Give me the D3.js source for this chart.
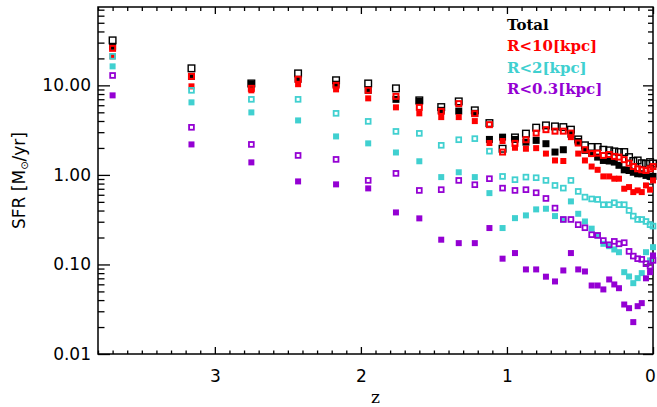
<!DOCTYPE html>
<html>
<head>
<meta charset="utf-8">
<script src="https://cdn.jsdelivr.net/npm/d3@7"></script>
<style>
  html, body { margin: 0; padding: 0; background: #fff; }
  svg { display: block; }
  .tick text { font-family: "DejaVu Sans", sans-serif; font-size: 17px; fill: #000; }
  .tick line { stroke: #000; stroke-width: 1.3; }
</style>
</head>
<body>
<svg id="chart" width="657" height="407"></svg>
<script>
// ─── Data ─────────────────────────────────────────────────────────────────────

const redshift = [3.70, 3.16, 2.75, 2.43, 2.17, 1.95, 1.76, 1.60, 1.45, 1.33, 1.22, 1.12,
  1.03, 0.945, 0.87, 0.80, 0.733, 0.671, 0.614, 0.562, 0.512, 0.466, 0.42, 0.379,
  0.34, 0.30, 0.265, 0.233, 0.197, 0.164, 0.135, 0.105, 0.077, 0.048, 0.02, 0.0];

// open squares
const totalOpen = [31.8, 15.5, 10.5, 13.6, 11.4, 10.5, 9.26, 6.80, 5.72, 6.62, 5.26, 3.79,
  1.96, 2.62, 2.89, 3.37, 3.57, 3.48, 3.42, 3.20, 2.49, 2.14, 2.05, 2.05,
  1.91, 1.88, 1.83, 1.80, 1.80, 1.58, 1.43, 1.45, 1.35, 1.33, 1.39, 1.34];
const r10Open = [25.9, 12.6, 9.26, 11.7, 10.0, 8.8, 7.54, 5.68, 5.12, 6.25, 4.83, 3.64,
  1.80, 2.25, 2.47, 2.93, 3.20, 3.08, 3.08, 2.93, 2.27, 1.91, 1.73, 1.75,
  1.65, 1.69, 1.61, 1.58, 1.48, 1.35, 1.24, 1.17, 1.14, 1.12, 1.17, 1.24];
const r2Open = [21.1, 8.8, 6.98, 6.98, 4.87, 3.96, 3.06, 2.91, 2.14, 2.47, 2.54, 1.84,
  0.962, 0.884, 0.945, 0.93, 0.868, 0.763, 0.712, 0.868, 0.654, 0.565, 0.539, 0.532,
  0.465, 0.465, 0.489, 0.465, 0.465, 0.401, 0.347, 0.318, 0.318, 0.302, 0.278, 0.268];
const r03Open = [12.9, 3.40, 2.19, 1.65, 1.49, 0.868, 1.04, 0.671, 0.684, 0.868, 0.777, 0.907,
  0.712, 0.671, 0.684, 0.632, 0.546, 0.426, 0.318, 0.318, 0.278, 0.257, 0.215, 0.211,
  0.185, 0.166, 0.181, 0.170, 0.175, 0.140, 0.124, 0.116, 0.114, 0.102, 0.0957, 0.111];

// filled squares
const totalFilled = [27.3, 12.6, 10.3, 11.7, 10.3, 8.8, 6.98, 6.62, 5.26, 5.16, 4.87, 2.49,
  2.64, 2.49, 2.32, 2.43, 2.23, 1.80, 1.91, 2.84, 2.36, 1.88, 1.74, 1.58,
  1.45, 1.43, 1.39, 1.28, 1.14, 1.12, 1.07, 1.03, 1.03, 0.987, 0.962, 0.962];
const r10Filled = [21.1, 9.75, 8.8, 10.3, 9.02, 7.16, 5.68, 4.87, 4.42, 4.42, 3.99, 2.27,
  2.39, 2.01, 1.96, 1.99, 1.73, 1.45, 1.43, 2.64, 1.73, 1.45, 1.24, 1.14,
  0.962, 0.962, 0.907, 0.907, 0.701, 0.731, 0.643, 0.671, 0.643, 0.763, 0.684, 0.868];
const r2Filled = [16.3, 6.46, 4.99, 4.06, 2.69, 2.25, 1.78, 1.42, 0.945, 1.07, 0.945, 0.626,
  0.255, 0.329, 0.353, 0.412, 0.419, 0.347, 0.318, 0.506, 0.368, 0.302, 0.251, 0.211,
  0.170, 0.160, 0.147, 0.137, 0.082, 0.0734, 0.0618, 0.0703, 0.080, 0.137, 0.111, 0.156];
const r03Filled = [7.73, 2.19, 1.38, 0.846, 0.784, 0.707, 0.381, 0.327, 0.189, 0.173, 0.173, 0.255,
  0.116, 0.134, 0.088, 0.088, 0.073, 0.0646, 0.0857, 0.134, 0.088, 0.0835, 0.0582, 0.0582,
  0.0526, 0.068, 0.0598, 0.0543, 0.0357, 0.0325, 0.0227, 0.0342, 0.037, 0.070, 0.082, 0.126];

const legendLabels = ["Total", "R<10[kpc]", "R<2[kpc]", "R<0.3[kpc]"];
const seriesColors = ["#000000", "#ff0000", "#40d0d0", "#9400d3"];
const yTickValues = [0.01, 0.1, 1, 10];
const xTickValues = [0, 1, 2, 3];

// draw order: each group open then filled, black → red → cyan → purple
const series = [
  { values: totalOpen, color: seriesColors[0], open: true, size: 6.6, sw: 1.4 },
  { values: totalFilled, color: seriesColors[0], open: false, size: 7 },
  { values: r10Open, color: seriesColors[1], open: true, size: 5, sw: 2 },
  { values: r10Filled, color: seriesColors[1], open: false, size: 6 },
  { values: r2Open, color: seriesColors[2], open: true, size: 4.8, sw: 1.8 },
  { values: r2Filled, color: seriesColors[2], open: false, size: 6 },
  { values: r03Open, color: seriesColors[3], open: true, size: 4.8, sw: 1.8 },
  { values: r03Filled, color: seriesColors[3], open: false, size: 6 },
];

// ─── Chart ────────────────────────────────────────────────────────────────────

const margin = { top: 7, right: 4, bottom: 53, left: 98 };
const W = 657, H = 407;
const width = W - margin.left - margin.right;
const height = H - margin.top - margin.bottom;

const svg = d3.select("#chart");
const g = svg.append("g").attr("transform", `translate(${margin.left},${margin.top})`);

const x = d3.scaleLinear().domain([3.8, 0]).range([0, width]);
const y = d3.scaleLog().domain([0.01, 75]).range([height, 0]);

const xMinor = x.ticks(38).filter(d => Math.abs(d - Math.round(d)) > 1e-6);
const yMinor = y.ticks().filter(d => !yTickValues.some(t => Math.abs(t - d) / t < 1e-6));

function cleanAxis(sel) {
  sel.select(".domain").remove();
}

// bottom
g.append("g").attr("transform", `translate(0,${height})`)
  .call(d3.axisBottom(x).tickValues(xTickValues).tickSizeInner(-7).tickSizeOuter(0)
    .tickPadding(16).tickFormat(d3.format("d")))
  .call(cleanAxis)
  .call(ax => ax.selectAll(".tick text").filter(d => d === 0).attr("dx", -3));
g.append("g").attr("transform", `translate(0,${height})`)
  .call(d3.axisBottom(x).tickValues(xMinor).tickSizeInner(-3.5).tickSizeOuter(0).tickFormat(""))
  .call(cleanAxis);

// top
g.append("g")
  .call(d3.axisTop(x).tickValues(xTickValues).tickSizeInner(-7).tickSizeOuter(0).tickFormat(""))
  .call(cleanAxis);
g.append("g")
  .call(d3.axisTop(x).tickValues(xMinor).tickSizeInner(-4).tickSizeOuter(0).tickFormat(""))
  .call(cleanAxis);

// left
g.append("g")
  .call(d3.axisLeft(y).tickValues(yTickValues).tickSizeInner(-12).tickSizeOuter(0)
    .tickPadding(7).tickFormat(d3.format(".2f")))
  .call(cleanAxis);
g.append("g")
  .call(d3.axisLeft(y).tickValues(yMinor).tickSizeInner(-6.5).tickSizeOuter(0).tickFormat(""))
  .call(cleanAxis);

// right
g.append("g").attr("transform", `translate(${width},0)`)
  .call(d3.axisRight(y).tickValues(yTickValues).tickSizeInner(-10).tickSizeOuter(0).tickFormat(""))
  .call(cleanAxis);
g.append("g").attr("transform", `translate(${width},0)`)
  .call(d3.axisRight(y).tickValues(yMinor).tickSizeInner(-5).tickSizeOuter(0).tickFormat(""))
  .call(cleanAxis);

// frame
g.append("rect")
  .attr("width", width).attr("height", height)
  .attr("fill", "none").attr("stroke", "#000").attr("stroke-width", 1.5);

// Points
const plot = g.append("g");
series.forEach(s => {
  const pts = redshift.map((z, i) => ({ z, v: s.values[i] }));
  plot.append("g").selectAll("rect")
    .data(pts)
    .join("rect")
    .attr("x", d => x(d.z) - s.size / 2)
    .attr("y", d => y(d.v) - s.size / 2)
    .attr("width", s.size)
    .attr("height", s.size)
    .attr("fill", s.open ? "none" : s.color)
    .attr("stroke", s.open ? s.color : "none")
    .attr("stroke-width", s.open ? s.sw : 0);
});

// Legend
const legend = g.append("g").attr("transform", `translate(${507 - margin.left},0)`);
legend.selectAll("text")
  .data(legendLabels)
  .join("text")
  .attr("x", 0)
  .attr("y", (d, i) => 23 + i * 21.3)
  .attr("fill", (d, i) => seriesColors[i])
  .attr("font-family", "DejaVu Serif, serif")
  .attr("font-weight", "bold")
  .attr("font-size", "15px")
  .text(d => d);

// Axis titles
svg.append("text")
  .attr("x", margin.left + width / 2)
  .attr("y", 403)
  .attr("text-anchor", "middle")
  .attr("font-family", "DejaVu Serif, serif")
  .attr("font-size", "17px")
  .text("z");

const yTitle = svg.append("text")
  .attr("transform", `translate(25,${margin.top + height / 2}) rotate(-90)`)
  .attr("text-anchor", "middle")
  .attr("font-family", "DejaVu Sans, sans-serif")
  .attr("font-size", "17px");
yTitle.append("tspan").text("SFR [M");
yTitle.append("tspan").attr("font-size", "10px").attr("dy", "3").text("⊙");
yTitle.append("tspan").attr("dy", "-3").text("/yr]");
</script>
</body>
</html>
